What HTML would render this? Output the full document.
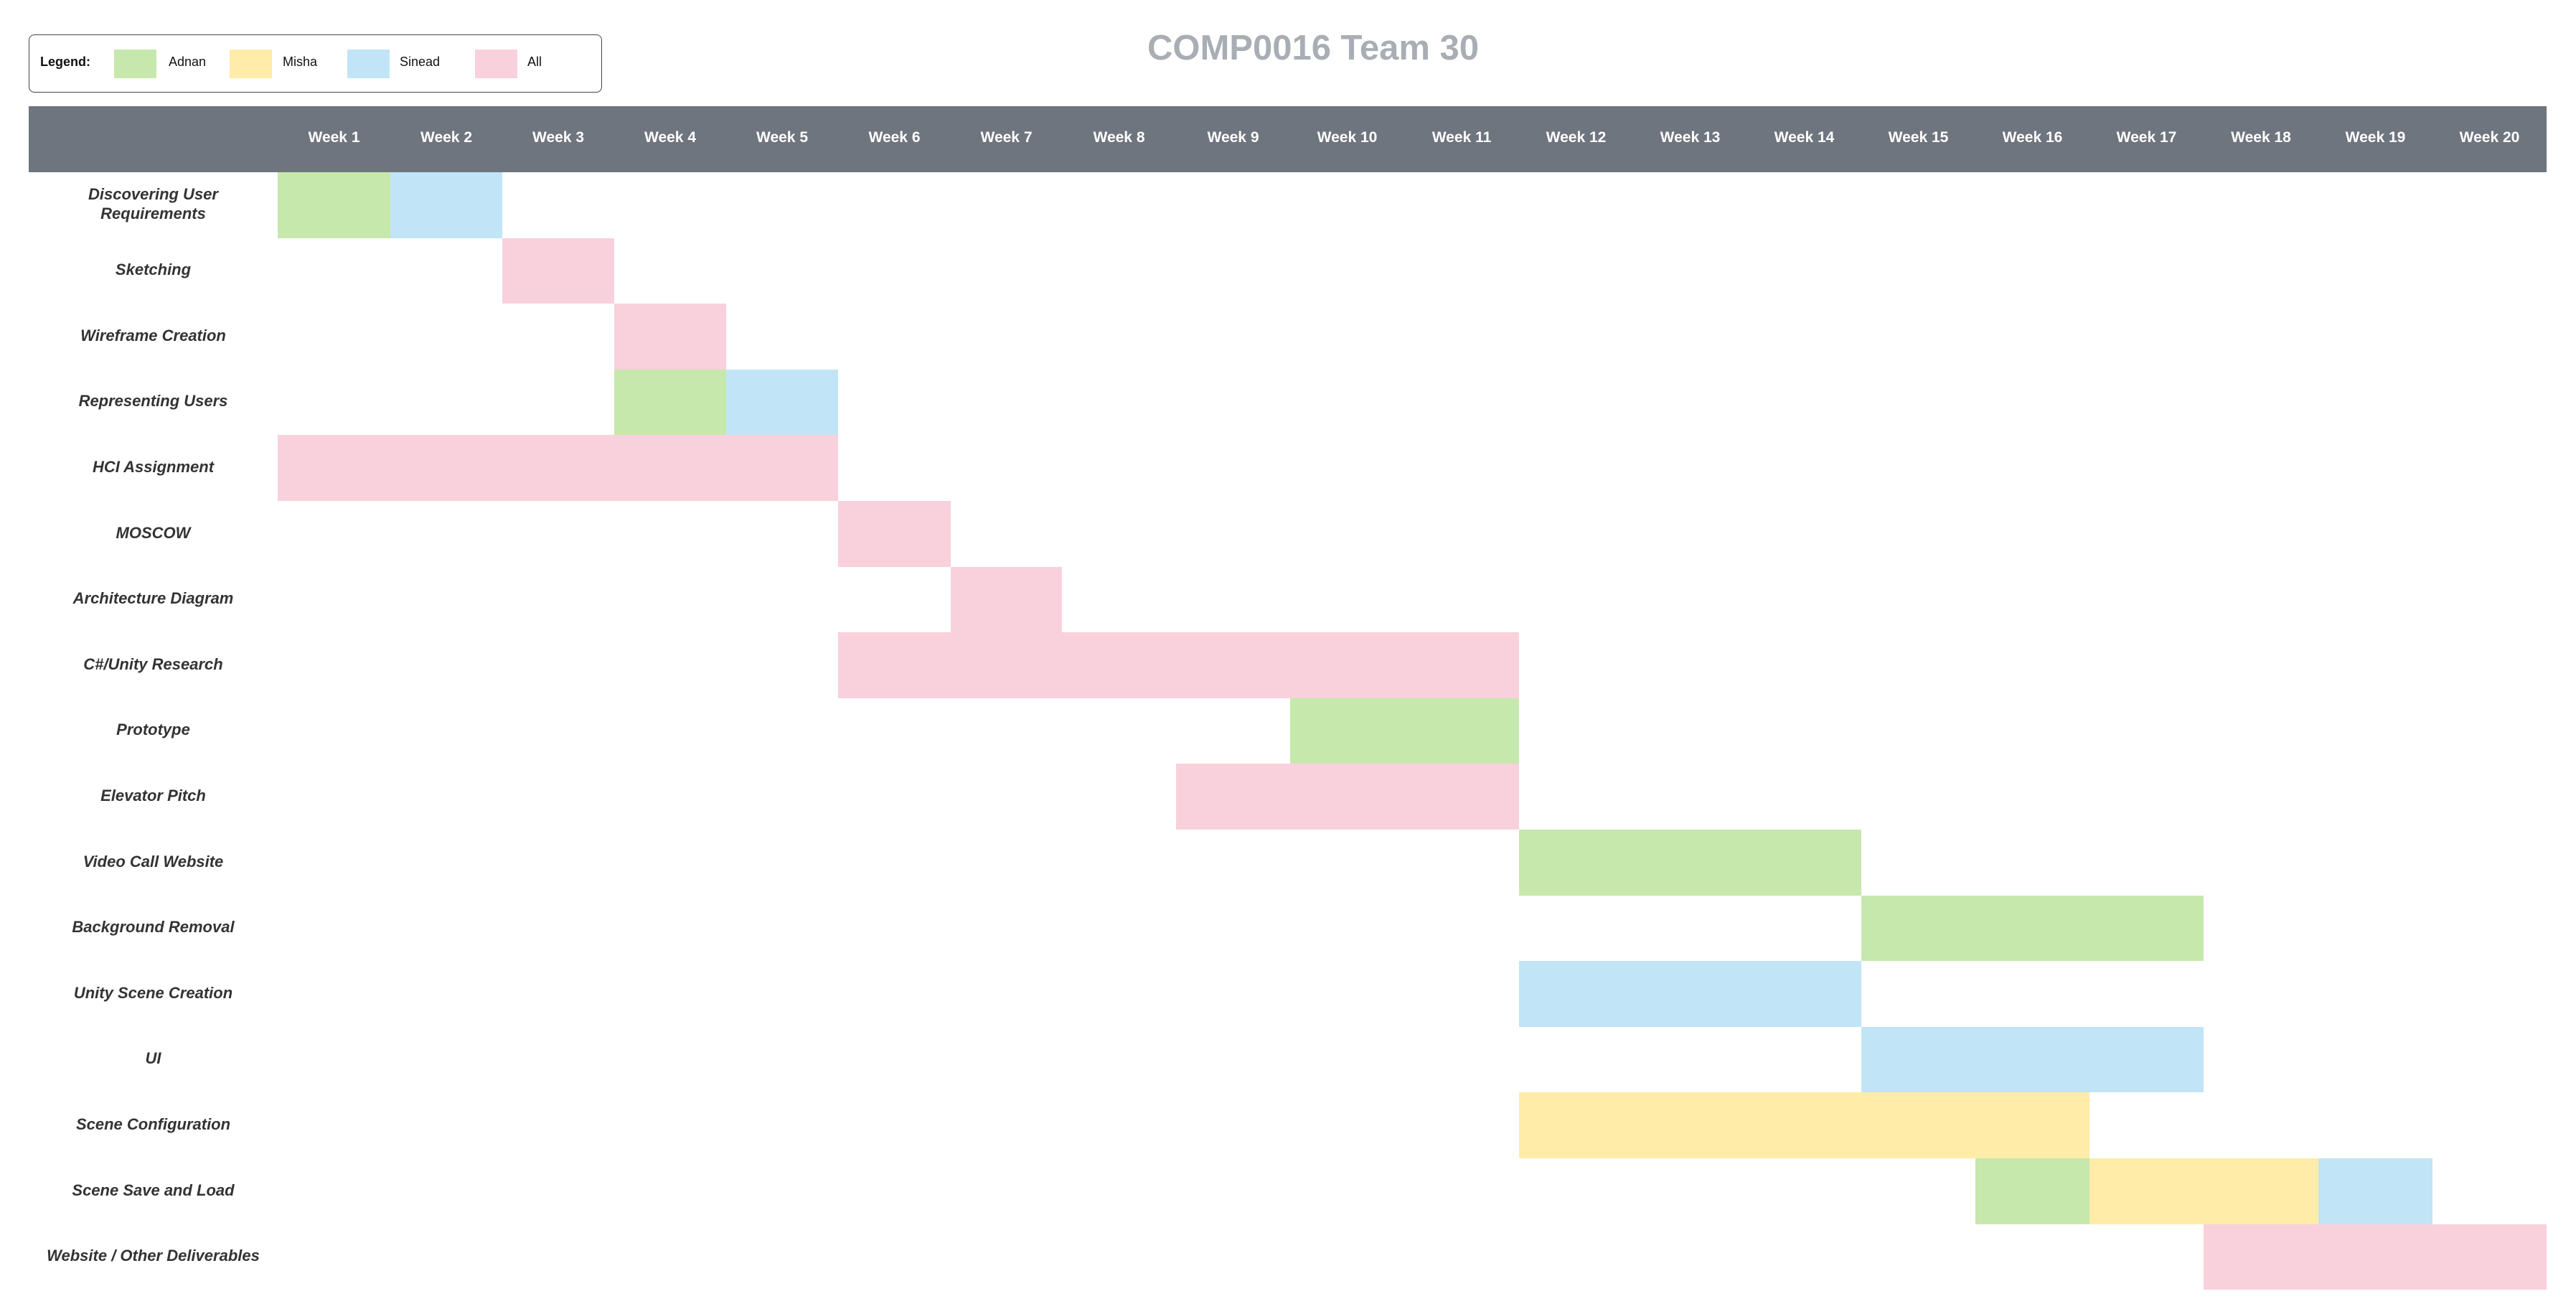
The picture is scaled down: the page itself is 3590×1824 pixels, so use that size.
<!DOCTYPE html>
<html><head><meta charset="utf-8"><style>
html,body{margin:0;padding:0;background:#fff;}
body{width:3590px;height:1824px;position:relative;overflow:hidden;font-family:"Liberation Sans",sans-serif;}
.a{position:absolute;}
.title{left:1300px;width:1060px;top:39px;text-align:center;font-size:49px;font-weight:bold;color:#a9aeb5;line-height:56px;}
.leg{left:40px;top:48px;width:797px;height:79px;border:1.5px solid #444;border-radius:8px;}
.lt{font-size:18px;color:#111;top:75px;line-height:22px;}
.sw{top:69px;width:59px;height:40px;}
.hdr{left:40px;top:148px;width:3509px;height:92px;background:#6f757e;}
.wk{top:148px;height:92px;line-height:88px;color:#fff;font-weight:bold;font-size:21px;text-align:center;}
.lab{left:40px;width:347px;text-align:center;font-weight:bold;font-style:italic;font-size:22px;color:#333;line-height:27px;display:flex;align-items:center;justify-content:center;}
.G{background:#c7e8ac}.Y{background:#ffeca9}.B{background:#c1e4f7}.P{background:#f8d1dc}
</style></head><body>
<div class="a title">COMP0016 Team 30</div>
<div class="a leg"></div>
<div class="a lt" style="left:56px;font-weight:bold;">Legend:</div>
<div class="a sw G" style="left:159px"></div><div class="a lt" style="left:235px">Adnan</div>
<div class="a sw Y" style="left:320px"></div><div class="a lt" style="left:394px">Misha</div>
<div class="a sw B" style="left:484px"></div><div class="a lt" style="left:557px">Sinead</div>
<div class="a sw P" style="left:662px"></div><div class="a lt" style="left:735px">All</div>
<div class="a hdr"></div>
<div id="c"></div>
<script>
var X=[387,544,700,856,1012,1168,1325,1480,1639,1798,1957,2117,2276,2435,2594,2753,2912,3071,3231,3390,3549];
var T=240,H=91.6,h='';
for(var i=0;i<20;i++){h+='<div class="a wk" style="left:'+X[i]+'px;width:'+(X[i+1]-X[i])+'px">Week '+(i+1)+'</div>';}
var L=["Discovering User<br>Requirements","Sketching","Wireframe Creation","Representing Users","HCI Assignment","MOSCOW","Architecture Diagram","C#/Unity Research","Prototype","Elevator Pitch","Video Call Website","Background Removal","Unity Scene Creation","UI","Scene Configuration","Scene Save and Load","Website / Other Deliverables"];
var Bs=[[0,0,1,'G'],[0,1,2,'B'],[1,2,3,'P'],[2,3,4,'P'],[3,3,4,'G'],[3,4,5,'B'],[4,0,5,'P'],[5,5,6,'P'],[6,6,7,'P'],[7,5,11,'P'],[8,9,11,'G'],[9,8,11,'P'],[10,11,14,'G'],[11,14,17,'G'],[12,11,14,'B'],[13,14,17,'B'],[14,11,16,'Y'],[15,15,16,'G'],[15,16,18,'Y'],[15,18,19,'B'],[16,17,20,'P']];
Bs.forEach(function(b){var y=Math.round(T+b[0]*H),y2=Math.round(T+(b[0]+1)*H);h+='<div class="a '+b[3]+'" style="left:'+X[b[1]]+'px;width:'+(X[b[2]]-X[b[1]])+'px;top:'+y+'px;height:'+(y2-y)+'px"></div>';});
L.forEach(function(t,i){var y=Math.round(T+i*H)-2,y2=Math.round(T+(i+1)*H)-2;h+='<div class="a lab" style="top:'+y+'px;height:'+(y2-y)+'px"><span>'+t+'</span></div>';});
document.getElementById('c').innerHTML=h;
</script>
</body></html>
